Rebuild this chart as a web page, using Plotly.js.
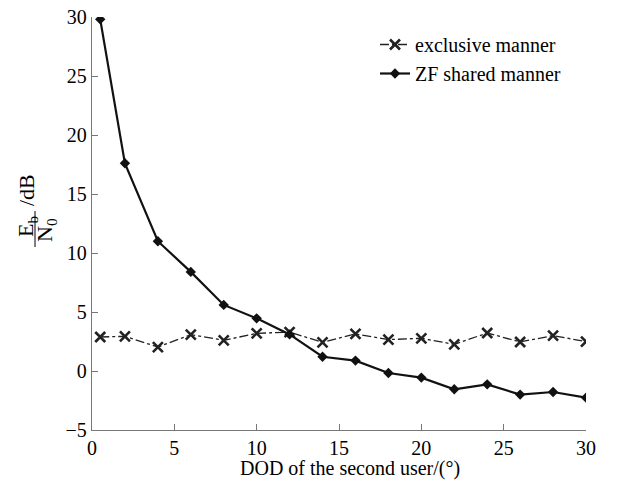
<!DOCTYPE html>
<html><head><meta charset="utf-8">
<script src="https://cdn.plot.ly/plotly-3.0.1.min.js"></script>
<style>html,body{margin:0;padding:0;background:#fff}#c{width:642px;height:490px}</style>
</head><body><div id="c"></div>
<script>
var dod = [0.5, 2, 4, 6, 8, 10, 12, 14, 16, 18, 20, 22, 24, 26, 28, 30];
var exclusive = [2.88, 2.94, 2.03, 3.08, 2.6, 3.19, 3.3, 2.43, 3.14, 2.66, 2.77, 2.26, 3.22, 2.46, 3.0, 2.49];
var zfShared = [29.8, 17.6, 11.0, 8.4, 5.6, 4.46, 3.1, 1.21, 0.88, -0.17, -0.56, -1.55, -1.13, -2.0, -1.78, -2.26];
var seriesNames = ['exclusive manner', 'ZF shared manner'];
var xTitle = 'DOD of the second user/(°)';

var L = 92, R = 586, T = 17, B = 430, W = 642, H = 490;
function px(x){return (x - L)/(R - L);}
function py(y){return (B - y)/(B - T);}
var fam = 'Liberation Serif';
var tickFont = {family: fam, size: 20, color: '#000'};
var legFont = {family: fam, size: 20, color: '#000'};
var titleFont = {family: fam, size: 20, color: '#000'};
var yFont = {family: fam, size: 22, color: '#000'};

var traces = [
  {x: dod, y: exclusive, name: seriesNames[0], mode: 'lines+markers', type: 'scatter',
   line: {color: '#222', width: 1.3, dash: 'dashdot'},
   marker: {symbol: 'x-thin-open', size: 10, color: '#222', line: {color: '#222', width: 2.6}}},
  {x: dod, y: zfShared, name: seriesNames[1], mode: 'lines+markers', type: 'scatter',
   line: {color: '#111', width: 2.2},
   marker: {symbol: 'diamond', size: 8, color: '#111'}}
];
var axisCommon = {showline: true, linecolor: '#777', linewidth: 1.2, ticks: 'inside', ticklen: 6,
  tickcolor: '#777', showgrid: false, zeroline: false, tickfont: tickFont, mirror: false};
var layout = {
  width: W, height: H, margin: {l: L, r: W - R, t: T, b: H - B},
  paper_bgcolor: '#fff', plot_bgcolor: '#fff', font: tickFont,
  xaxis: Object.assign({}, axisCommon, {range: [0, 30], dtick: 5}),
  yaxis: Object.assign({}, axisCommon, {range: [-5, 30], dtick: 5}),
  legend: {x: px(375), y: py(25), xanchor: 'left', yanchor: 'top', font: legFont, bgcolor: 'rgba(0,0,0,0)', tracegroupgap: 0},
  showlegend: true,
  annotations: [
    {xref: 'paper', yref: 'paper', x: px(350), y: py(468), text: xTitle, showarrow: false, font: titleFont, xanchor: 'center', yanchor: 'middle'},
    {xref: 'paper', yref: 'paper', x: px(27), y: py(227), text: 'E<sub>b</sub>', showarrow: false, textangle: -90, font: yFont, xanchor: 'center', yanchor: 'middle'},
    {xref: 'paper', yref: 'paper', x: px(26), y: py(190), text: '/dB', showarrow: false, textangle: -90, font: yFont, xanchor: 'center', yanchor: 'middle'},
    {xref: 'paper', yref: 'paper', x: px(46), y: py(230), text: 'N<sub>0</sub>', showarrow: false, textangle: -90, font: yFont, xanchor: 'center', yanchor: 'middle'}
  ],
  shapes: [
    {type: 'line', xref: 'paper', yref: 'paper', x0: px(35), x1: px(35), y0: py(211), y1: py(247), line: {color: '#000', width: 1}}
  ]
};
Plotly.newPlot('c', traces, layout, {displayModeBar: false, staticPlot: true});
</script></body></html>
